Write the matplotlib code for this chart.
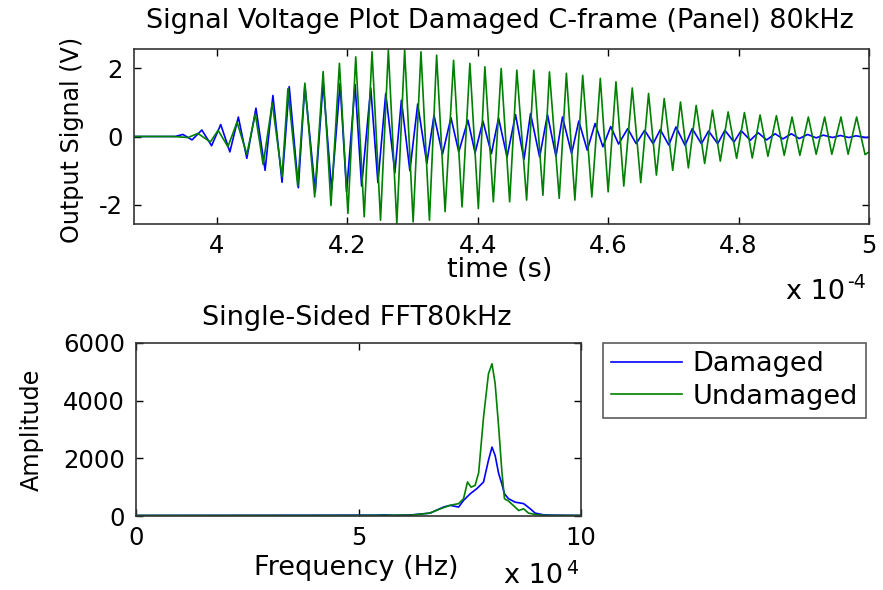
import numpy as np
import matplotlib
matplotlib.use("Agg")
import matplotlib.pyplot as plt
from matplotlib.ticker import FuncFormatter

plt.rcParams['font.family'] = ['DejaVu Sans']
plt.rcParams['axes.unicode_minus'] = False

# ---- time-domain signals (successive extrema of each waveform) ----
# times in units of 1e-4 s, voltages in V
t_undamaged = [3.873, 3.933, 3.956, 3.971, 3.990, 4.002, 4.017, 4.031, 4.046, 4.059,
               4.071, 4.085, 4.100, 4.109, 4.124, 4.135, 4.150, 4.163, 4.175, 4.188,
               4.201, 4.213, 4.226, 4.238, 4.251, 4.263, 4.276, 4.288, 4.301, 4.313,
               4.326, 4.337, 4.350, 4.363, 4.376, 4.388, 4.401, 4.411, 4.424, 4.436,
               4.449, 4.460, 4.475, 4.486, 4.500, 4.510, 4.525, 4.536, 4.549, 4.561,
               4.575, 4.588, 4.600, 4.612, 4.624, 4.637, 4.650, 4.662, 4.674, 4.686,
               4.699, 4.711, 4.723, 4.735, 4.748, 4.760, 4.772, 4.784, 4.797, 4.809,
               4.821, 4.833, 4.845, 4.858, 4.870, 4.882, 4.894, 4.907, 4.919, 4.932,
               4.943, 4.957, 4.968, 4.981, 4.994, 5.000]
v_undamaged = [0.0, 0.0, -0.03, 0.09, -0.16, 0.18, -0.30, 0.42, -0.52, 0.66,
               -0.82, 0.98, -1.18, 1.40, -1.45, 1.56, -1.77, 1.90, -2.02, 2.14,
               -2.25, 2.33, -2.35, 2.48, -2.45, 2.53, -2.55, 2.53, -2.50, 2.48,
               -2.45, 2.38, -2.20, 2.23, -2.06, 2.14, -2.11, 2.04, -1.91, 1.99,
               -1.91, 1.94, -1.86, 1.94, -1.72, 1.89, -1.81, 1.85, -1.86, 1.79,
               -1.77, 1.70, -1.62, 1.60, -1.45, 1.42, -1.35, 1.26, -1.13, 1.11,
               -0.99, 1.01, -0.92, 0.91, -0.79, 0.77, -0.72, 0.72, -0.64, 0.70,
               -0.63, 0.63, -0.58, 0.61, -0.55, 0.57, -0.55, 0.57, -0.52, 0.57,
               -0.52, 0.57, -0.52, 0.57, -0.53, -0.45]

t_damaged = [3.873, 3.936, 3.948, 3.962, 3.977, 3.992, 4.006, 4.020, 4.033, 4.046,
             4.060, 4.074, 4.086, 4.100, 4.111, 4.125, 4.135, 4.151, 4.163, 4.176,
             4.189, 4.199, 4.212, 4.222, 4.236, 4.247, 4.259, 4.273, 4.283, 4.296,
             4.308, 4.322, 4.333, 4.346, 4.359, 4.371, 4.385, 4.396, 4.408, 4.421,
             4.432, 4.445, 4.458, 4.471, 4.481, 4.495, 4.507, 4.520, 4.530, 4.544,
             4.555, 4.568, 4.580, 4.592, 4.604, 4.616, 4.630, 4.643, 4.656, 4.669,
             4.680, 4.693, 4.704, 4.718, 4.729, 4.743, 4.754, 4.768, 4.779, 4.793,
             4.804, 4.818, 4.830, 4.843, 4.856, 4.868, 4.881, 4.893, 4.906, 4.919,
             4.930, 4.944, 4.956, 4.969, 4.980, 4.995, 5.000]
v_damaged = [0.0, 0.0, 0.06, -0.10, 0.19, -0.27, 0.35, -0.45, 0.57, -0.64,
             0.83, -0.99, 1.20, -1.34, 1.46, -1.50, 1.50, -1.62, 1.58, -1.57,
             1.55, -1.62, 1.52, -1.45, 1.42, -1.35, 1.26, -1.06, 1.06, -1.00,
             0.95, -0.79, 0.62, -0.52, 0.55, -0.45, 0.48, -0.48, 0.45, -0.50,
             0.54, -0.60, 0.64, -0.67, 0.67, -0.60, 0.64, -0.58, 0.57, -0.50,
             0.45, -0.40, 0.38, -0.30, 0.29, -0.22, 0.23, -0.21, 0.18, -0.21,
             0.20, -0.25, 0.28, -0.26, 0.23, -0.21, 0.16, -0.21, 0.18, -0.16,
             0.17, -0.11, 0.11, -0.10, 0.08, -0.07, 0.08, -0.06, 0.06, -0.04,
             0.04, -0.03, 0.03, -0.03, 0.02, -0.03, -0.02]

# ---- single-sided FFT amplitude spectra ----
f_undamaged = [0, 50000, 62000, 66000, 68400, 70600, 72500, 73600, 74500, 75300,
               76200, 77000, 78100, 79200, 80000, 80700, 81500, 82200, 82800, 83700,
               84900, 86000, 87100, 88200, 90100, 92000, 100000]
a_undamaged = [20, 20, 30, 100, 250, 370, 430, 600, 1180, 1000,
               1060, 1500, 3430, 4930, 5280, 4600, 3080, 1580, 600, 520,
               350, 190, 250, 100, 45, 20, 20]

f_damaged = [0, 54000, 56000, 58000, 62000, 66100, 69100, 70600, 72500, 73600,
             75100, 76600, 78100, 79200, 80000, 80700, 81500, 82200, 82800, 83700,
             85200, 87100, 88600, 89700, 91600, 93500, 100000]
a_damaged = [20, 30, 40, 25, 40, 100, 310, 370, 310, 540,
             770, 950, 1180, 1930, 2390, 2100, 1470, 1120, 770, 600,
             480, 430, 250, 100, 40, 30, 20]

time_ticks = [4.0, 4.2, 4.4, 4.6, 4.8, 5.0]
volt_ticks = [-2, 0, 2]
freq_ticks = [0, 50000, 100000]
amp_ticks = [0, 2000, 4000, 6000]

BLUE = (0, 0, 1)
GREEN = (0, 0.5, 0)
FS = 19.5     # titles, x labels, legend
YFS = 17.2    # rotated y labels
TFS = 17.5    # tick labels
W, H = 883, 590

fig = plt.figure(figsize=(W / 100, H / 100), dpi=100)


def px(x, y):
    """pixel position (from top-left) -> figure fraction"""
    return x / W, 1 - y / H


def style_axes(ax):
    ax.tick_params(direction='in', top=True, right=True, length=5, width=1,
                   labelsize=TFS, colors='black')
    ax.tick_params(axis='x', pad=7)
    ax.tick_params(axis='y', pad=8)
    for s in ax.spines.values():
        s.set_color('#333333')
        s.set_linewidth(1.2)


# time signal panel
ax1 = fig.add_axes([134 / W, 1 - 224 / H, 735 / W, 175 / H])
ax1.plot(np.array(t_damaged) * 1e-4, v_damaged, color=BLUE, lw=1.2)
ax1.plot(np.array(t_undamaged) * 1e-4, v_undamaged, color=GREEN, lw=1.2)
ax1.set_xlim(3.873e-4, 5.0e-4)
ax1.set_ylim(-2.56, 2.56)
ax1.set_xticks([t * 1e-4 for t in time_ticks])
ax1.xaxis.set_major_formatter(FuncFormatter(lambda v, p: f"{v / 1e-4:g}"))
ax1.set_yticks(volt_ticks)
style_axes(ax1)
fig.text(*px(500, 21), "Signal Voltage Plot Damaged C-frame (Panel) 80kHz",
         fontsize=FS, ha='center', va='center')
fig.text(*px(500, 270), "time (s)", fontsize=FS, ha='center', va='center')
fig.text(*px(72, 140), "Output Signal (V)", fontsize=YFS, ha='center', va='center',
         rotation=90)
fig.text(*px(845, 292), "x 10", fontsize=FS, ha='right', va='center')
fig.text(*px(847, 282), "-4", fontsize=FS * 0.7, ha='left', va='center')

# spectrum panel
ax2 = fig.add_axes([136 / W, 1 - 516 / H, 445 / W, 173 / H])
ld, = ax2.plot(f_damaged, a_damaged, color=BLUE, lw=1.2)
lu, = ax2.plot(f_undamaged, a_undamaged, color=GREEN, lw=1.2)
ax2.set_xlim(0, 100000)
ax2.set_ylim(0, 6000)
ax2.set_xticks(freq_ticks)
ax2.xaxis.set_major_formatter(FuncFormatter(lambda v, p: f"{v / 1e4:g}"))
ax2.set_yticks(amp_ticks)
style_axes(ax2)
fig.text(*px(357, 318), "Single-Sided FFT80kHz", fontsize=FS, ha='center', va='center')
fig.text(*px(356, 568), "Frequency (Hz)", fontsize=FS, ha='center', va='center')
fig.text(*px(32, 430), "Amplitude", fontsize=YFS, ha='center', va='center', rotation=90)
fig.text(*px(563, 583), "x 10", fontsize=FS, ha='right', va='baseline')
fig.text(*px(566, 568), "4", fontsize=FS * 0.7, ha='left', va='center')

leg = fig.legend([ld, lu], ["Damaged", "Undamaged"], loc='upper left',
                 bbox_to_anchor=px(603, 343), fontsize=FS,
                 frameon=True, fancybox=False, handlelength=2.6, handletextpad=0.4,
                 borderpad=0.3, labelspacing=0.25, borderaxespad=0)
leg.get_frame().set_edgecolor('#333333')
leg.get_frame().set_linewidth(1.2)

fig.savefig("out.png", dpi=100)
